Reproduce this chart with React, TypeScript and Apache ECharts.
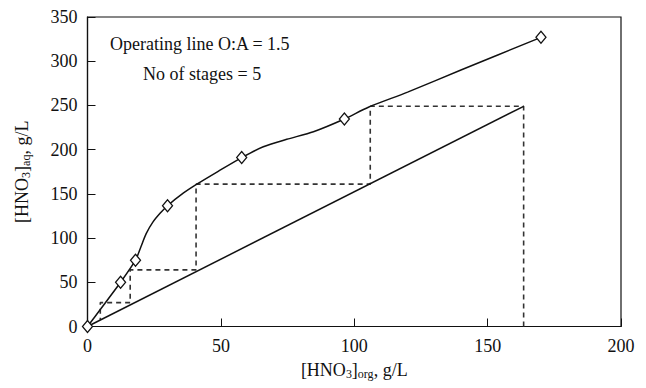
import React, { useEffect, useRef } from "react";
import * as echarts from "echarts";

const xTicks = [0, 50, 100, 150, 200];
const yTicks = [0, 50, 100, 150, 200, 250, 300, 350];

// Equilibrium curve
const curveX = [0, 5, 12.4, 18, 20, 22, 24.5, 27.2, 30, 36, 41, 49, 57.8, 65.9, 74.7, 84.7, 96.3, 105.3, 120, 140, 170];
const curveY = [0, 20, 50, 75, 90, 105, 118, 128, 136.6, 151, 161, 175.5, 191, 203.3, 211.7, 220.3, 234.7, 248, 265, 290, 327];

// Measured data points (diamonds)
const dataX = [0, 12.4, 18, 30, 57.8, 96.3, 170];
const dataY = [0, 50, 75, 136.6, 191, 234.7, 327];

// Operating line O:A = 1.5
const opX = [0, 163.5];
const opY = [0, 249];

// Stage construction (dashed staircase)
const stepX = [163.5, 163.5, 106, 106, 40.7, 40.7, 16, 16, 4.8, 4.8];
const stepY = [0, 249, 249, 161, 161, 64, 64, 27, 27, 7.5];

const zip = (xs: number[], ys: number[]) => xs.map((x, i) => [x, ys[i]]);

const FONT = "Liberation Serif";

export default function App() {
  const ref = useRef<HTMLDivElement>(null);
  useEffect(() => {
    if (!ref.current) return;
    const chart = echarts.init(ref.current, null, { renderer: "svg" });
    const sub = { fontSize: 12, fontFamily: FONT, color: "#111", padding: [7, 0, 0, 0] };
    const main = { fontSize: 18, fontFamily: FONT, color: "#111" };
    chart.setOption({
      animation: false,
      backgroundColor: "#fff",
      textStyle: { fontFamily: FONT },
      grid: {
        left: 87.5,
        right: 25,
        top: 17,
        bottom: 61.5,
        show: true,
        borderColor: "#111",
        borderWidth: 1.2,
        containLabel: false,
        outerBoundsMode: "none",
      },
      xAxis: {
        type: "value",
        min: xTicks[0],
        max: xTicks[xTicks.length - 1],
        interval: 50,
        axisLine: { show: true, lineStyle: { color: "#111", width: 1.2 } },
        axisTick: { show: true, inside: true, length: 8, lineStyle: { color: "#111" } },
        splitLine: { show: false },
        axisLabel: { color: "#111", fontSize: 18, fontFamily: FONT, margin: 10 },
        name: "[HNO{s|3}]{s|org}, g/L",
        nameLocation: "middle",
        nameGap: 34,
        nameTextStyle: { ...main, rich: { s: sub } },
      },
      yAxis: {
        type: "value",
        min: yTicks[0],
        max: yTicks[yTicks.length - 1],
        interval: 50,
        axisLine: { show: true, lineStyle: { color: "#111", width: 1.2 } },
        axisTick: { show: true, inside: true, length: 8, lineStyle: { color: "#111" } },
        splitLine: { show: false },
        axisLabel: { color: "#111", fontSize: 18, fontFamily: FONT, margin: 10 },
        name: "[HNO{s|3}]{s|aq}, g/L",
        nameLocation: "middle",
        nameGap: 56,
        nameTextStyle: { ...main, rich: { s: sub } },
      },
      graphic: [
        {
          type: "text",
          left: 110,
          top: 35,
          style: { text: "Operating line O:A = 1.5", fontSize: 18, fontFamily: FONT, fill: "#111" },
        },
        {
          type: "text",
          left: 143,
          top: 65,
          style: { text: "No of stages = 5", fontSize: 18, fontFamily: FONT, fill: "#111" },
        },
      ],
      series: [
        {
          type: "line",
          data: zip(stepX, stepY),
          showSymbol: false,
          symbol: "none",
          lineStyle: { color: "#333", width: 1.6, type: [5, 4] },
          z: 1,
        },
        {
          type: "line",
          data: zip(opX, opY),
          symbol: "none",
          lineStyle: { color: "#111", width: 1.5 },
          z: 2,
        },
        {
          type: "line",
          data: zip(curveX, curveY),
          symbol: "none",
          smooth: 0.25,
          lineStyle: { color: "#111", width: 1.5 },
          z: 3,
        },
        {
          type: "scatter",
          data: zip(dataX, dataY),
          symbol: "diamond",
          symbolSize: [10, 12],
          itemStyle: { color: "#fff", borderColor: "#111", borderWidth: 1.3, opacity: 1 },
          z: 4,
        },
      ],
    });
    return () => chart.dispose();
  }, []);
  return <div ref={ref} style={{ position: "fixed", left: 0, top: 0, width: 646, height: 388 }} />;
}
